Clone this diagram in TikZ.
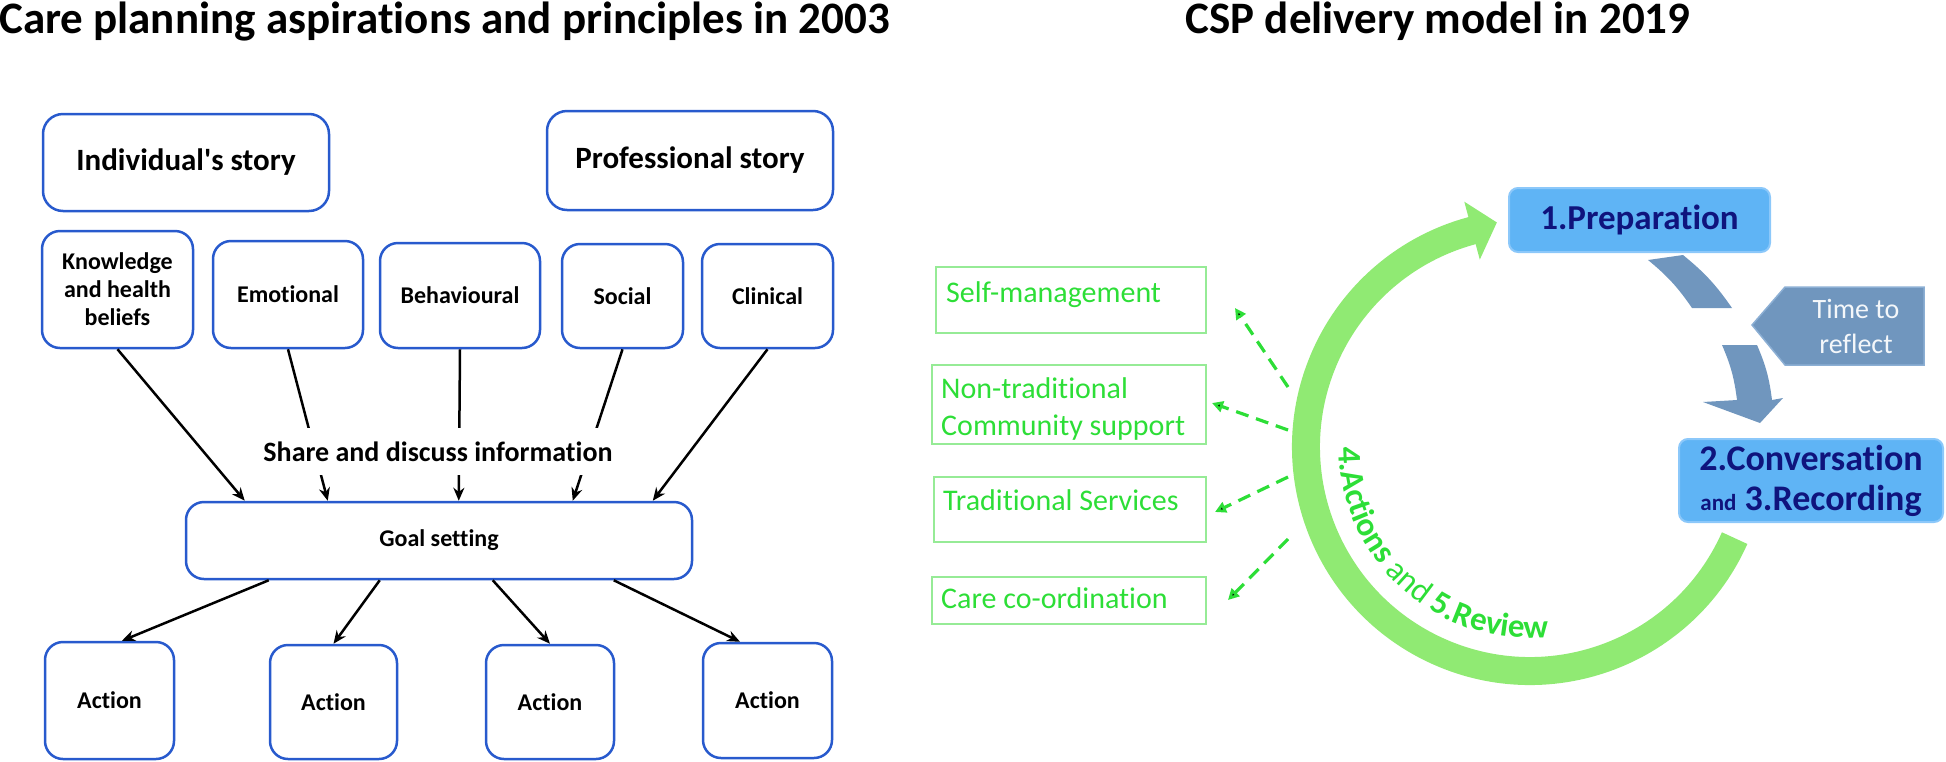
\documentclass[tikz,border=0pt]{standalone}
\usepackage{fontspec}
\setmainfont{Carlito}[Ligatures={TeX,NoCommon}]
\usetikzlibrary{arrows.meta,calc,decorations.text}
\definecolor{bbord}{RGB}{40,90,205}
\definecolor{garc}{RGB}{144,234,115}
\definecolor{gtxt}{RGB}{45,222,55}
\definecolor{gbord}{RGB}{150,235,150}
\definecolor{lblue}{RGB}{95,180,245}
\definecolor{lblueb}{RGB}{140,200,250}
\definecolor{navy}{RGB}{15,20,125}
\definecolor{steel}{RGB}{112,150,190}
\definecolor{steelb}{RGB}{140,175,212}
\newcommand\fsz[2]{\fontsize{#1}{#2}\selectfont}
\begin{document}
\begin{tikzpicture}[x=1pt,y=1pt,
  title/.style={font=\fsz{45}{54}\bfseries, inner sep=0pt},
  box/.style={draw=bbord, line width=2.5pt, rounded corners=18pt, align=center,
              font=\fsz{24}{28}\bfseries, inner sep=0pt},
  story/.style={box, font=\fsz{31}{37}\bfseries, rounded corners=20pt},
  arr/.style={line width=2.5pt, -{Stealth[length=13pt,width=11pt]}},
  bbox/.style={fill=lblue, draw=lblueb, line width=2pt, rounded corners=9pt,
               text=navy, align=center, inner sep=0pt},
  gbox/.style={draw=gbord, line width=2pt, inner sep=0pt},
  gtext/.style={font=\fsz{30}{36}, text=gtxt, inner sep=0pt},
  gdash/.style={draw=gtxt, line width=3.2pt, dash pattern=on 13pt off 8pt,
                -{Triangle[length=11pt,width=11pt]}}
]
\useasboundingbox (0,0) rectangle (1946,-761);

% ---------- titles ----------
\node[title, anchor=base west] (t1) at (-1,-33) {Care planning aspirations and principles in 2003};
\node[title, anchor=base] (t2) at (1438,-33) {CSP delivery model in 2019};

% ---------- left panel ----------
\node[story, minimum width=286pt, minimum height=97pt] (ind) at (186,-162.5) {Individual\textquotesingle s story};
\node[story, minimum width=286pt, minimum height=99pt] (prof) at (690,-160.5) {Professional story};

\node[box, minimum width=151pt, minimum height=117pt] (kn) at (117.5,-289.5) {Knowledge\\and health\\beliefs};
\node[box, minimum width=150pt, minimum height=107pt] (emo) at (288,-294.5) {Emotional};
\node[box, minimum width=160pt, minimum height=105pt] (beh) at (460,-295.5) {Behavioural};
\node[box, minimum width=121pt, minimum height=104pt] (soc) at (622.5,-296) {Social};
\node[box, minimum width=131pt, minimum height=104pt] (cli) at (767.5,-296) {Clinical};

\node[box, minimum width=506pt, minimum height=77pt] (goal) at (439,-540.5) {Goal setting};

\node[box, minimum width=129pt, minimum height=117pt] (a1) at (109.5,-700.5) {Action};
\node[box, minimum width=127pt, minimum height=114pt] (a2) at (333.5,-702) {Action};
\node[box, minimum width=128pt, minimum height=114pt] (a3) at (550,-702) {Action};
\node[box, minimum width=129pt, minimum height=115pt] (a4) at (767.5,-700.5) {Action};

\draw[arr] (kn.south)  -- ([xshift=60pt]goal.north west);
\draw[arr] (emo.south) -- ([xshift=143pt]goal.north west);
\draw[arr] (beh.south) -- ([xshift=274pt]goal.north west);
\draw[arr] (soc.south) -- ([xshift=388pt]goal.north west);
\draw[arr] (cli.south) -- ([xshift=468pt]goal.north west);

\node[font=\fsz{28}{34}\bfseries, fill=white, minimum height=47pt, inner xsep=5pt, inner ysep=0pt]
  (share) at (438,-451.5) {Share and discuss information};

\draw[arr] ([xshift=84pt]goal.south west)  -- ([xshift=12.5pt]a1.north);
\draw[arr] ([xshift=195pt]goal.south west) -- (a2.north);
\draw[arr] ([xshift=308pt]goal.south west) -- (a3.north);
\draw[arr] ([xshift=429pt]goal.south west) -- ([xshift=-27.5pt]a4.north);

% ---------- right panel ----------
\coordinate (C) at (1530,-447);

% green cycle arrow
\draw[garc, line width=28pt] ($(C)+(-24:224)$) arc[start angle=-24, end angle=-255.5, radius=224pt];
\fill[garc] ($(C)+(105:254)$) -- ($(C)+(98.4:227)$) -- ($(C)+(105:194)$) -- cycle;

\path[decorate, decoration={text along path, text color=gtxt, text align=left,
  text={|\fsz{33}{40}\bfseries|4.Actions |\fsz{33}{40}\mdseries|and |\fsz{33}{40}\bfseries|5.Review}}]
  ($(C)+(180:191)$) arc[start angle=180, end angle=300, radius=191pt];

% steel-blue reflect arrow
\fill[steel] (1648,-260) to[bend left=8] (1692,-308) -- (1732,-308) to[bend right=8] (1683,-255) -- cycle;
\fill[steel] (1722,-345) to[bend left=8] (1737,-400) -- (1703,-402) -- (1760,-423)
   -- (1783,-398) -- (1772,-400) to[bend right=8] (1757,-345) -- cycle;
\filldraw[fill=steel, draw=steelb, line width=1.5pt]
   (1752,-325) -- (1785,-287) -- (1924,-287) -- (1924,-365) -- (1785,-365) -- cycle;
\node[font=\fsz{28}{35}, text=white!92!steel, align=center, inner sep=0pt] (ttr) at (1856,-326) {Time to\\reflect};

% blue boxes
\node[bbox, minimum width=261pt, minimum height=64pt, font=\fsz{35}{42}\bfseries] (prep) at (1639.5,-220) {1.Preparation};
\node[bbox, minimum width=264pt, minimum height=83pt, font=\fsz{36}{40}\bfseries] (conv) at (1811,-480.5)
  {2.Conversation\\{\fsz{23}{40}and} 3.Recording};

% green boxes
\node[gbox, minimum width=270pt, minimum height=66pt] (sm) at (1071,-300) {};
\node[gtext, anchor=base west] (smt) at (946,-302) {Self-management};
\node[gbox, minimum width=274pt, minimum height=79pt] (nt) at (1069,-404.5) {};
\node[gtext, anchor=base west] (ntt1) at (941,-398) {Non-traditional};
\node[gtext, anchor=base west] (ntt2) at (941,-435) {Community support};
\node[gbox, minimum width=272pt, minimum height=65pt] (ts) at (1070,-509.5) {};
\node[gtext, anchor=base west] (tst) at (943,-510) {Traditional Services};
\node[gbox, minimum width=274pt, minimum height=47pt] (cc) at (1069,-600.5) {};
\node[gtext, anchor=base west] (cct) at (941,-608) {Care co-ordination};

% dashed green arrows
\coordinate (d1s) at (1288,-387); \coordinate (d1e) at (1235,-308);
\coordinate (d2s) at (1288,-430); \coordinate (d2e) at (1212,-403);
\coordinate (d3s) at (1288,-477); \coordinate (d3e) at (1215,-512);
\coordinate (d4s) at (1288,-539); \coordinate (d4e) at (1228,-600);
\draw[gdash] (d1s) -- (d1e);
\draw[gdash] (d2s) -- (d2e);
\draw[gdash] (d3s) -- (d3e);
\draw[gdash] (d4s) -- (d4e);
\end{tikzpicture}
\end{document}
